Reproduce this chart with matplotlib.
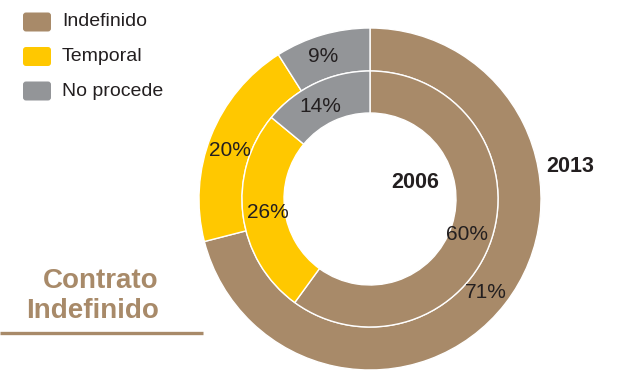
import matplotlib.pyplot as plt
from matplotlib.patches import FancyBboxPatch

categories = ['Indefinido', 'Temporal', 'No procede']
valores_2013 = [71, 20, 9]
valores_2006 = [60, 26, 14]
colores = ['#A88A69', '#FFC800', '#939598']
texto = '#231F20'

plt.rcParams['font.family'] = ['Liberation Sans', 'DejaVu Sans']

fig = plt.figure(figsize=(6.17, 3.70), dpi=100)
ax = fig.add_axes([0, 0, 1, 1])

centro = (370, 171)

# anillo exterior: 2013
ax.pie(valores_2013, colors=colores, radius=171, center=centro, startangle=90,
       counterclock=False, frame=True,
       wedgeprops=dict(width=43, edgecolor='white', linewidth=1))
# anillo interior: 2006
ax.pie(valores_2006, colors=colores, radius=128, center=centro, startangle=90,
       counterclock=False, frame=True,
       wedgeprops=dict(width=42, edgecolor='white', linewidth=1))
ax.set_xlim(0, 617)
ax.set_ylim(0, 370)
ax.set_aspect('auto')
ax.axis('off')

# etiquetas de porcentaje
etiquetas = [(valores_2013[0], 486, 77), (valores_2013[1], 230, 219), (valores_2013[2], 323, 313),
             (valores_2006[0], 467, 135), (valores_2006[1], 268, 157), (valores_2006[2], 320, 264)]
for v, x, y in etiquetas:
    ax.text(x, y, f'{v}%', fontsize=15, color=texto, ha='center', va='center')

ax.text(415, 187, '2006', fontsize=15.5, fontweight='bold', color=texto, ha='center', va='center')
ax.text(570, 203, '2013', fontsize=15.5, fontweight='bold', color=texto, ha='center', va='center')

# leyenda
for i, (cat, col) in enumerate(zip(categories, colores)):
    y = 348 - i * 34.5
    ax.add_patch(FancyBboxPatch((23, y - 9.5), 28, 19, boxstyle='round,pad=0,rounding_size=3',
                                facecolor=col, edgecolor='none'))
    ax.text(62, y, cat, fontsize=14, color=texto, ha='left', va='center')

# titulo lateral
ax.text(159, 74, 'Contrato\nIndefinido', fontsize=20, fontweight='bold', color='#A88A69',
        ha='right', va='center', linespacing=1.22)
ax.plot([0, 203], [37, 37], color='#A88A69', linewidth=2.4, solid_capstyle='butt')

fig.savefig('out.png', dpi=100)
